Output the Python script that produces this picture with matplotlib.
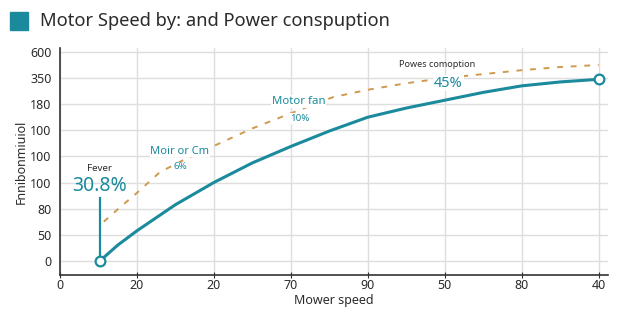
import matplotlib
matplotlib.use('Agg')
import matplotlib.pyplot as plt
import matplotlib.patches as mpatches

plt.rcParams['font.family'] = ['Noto Sans', 'DejaVu Sans']

TEAL = '#1b8a9c'
ORANGE = '#d09a4e'
GRID = '#dedede'
DARK = '#2b2b2b'

# tick labels as printed on the chart (positions are 0..n-1)
x_labels = ['0', '20', '20', '70', '90', '50', '80', '40']
y_labels = ['0', '50', '80', '100', '100', '100', '180', '350', '600']

speed_x = [0.52, 0.75, 1.0, 1.5, 2.0, 2.5, 3.0, 3.5, 4.0, 4.5, 5.0, 5.5, 6.0, 6.5, 7.0]
speed_y = [0.0, 0.6, 1.15, 2.15, 3.0, 3.75, 4.38, 4.97, 5.5, 5.85, 6.15, 6.45, 6.7, 6.85, 6.95]

# power consumption curve (dashed)
power_x = [0.57, 0.8, 1.0, 1.3, 1.6, 2.0, 2.5, 3.0, 3.55, 4.0, 4.5, 5.0, 5.5, 6.0, 6.5, 7.0]
power_y = [1.5, 2.1, 2.6, 3.4, 3.85, 4.4, 5.07, 5.65, 6.27, 6.55, 6.8, 7.0, 7.15, 7.3, 7.42, 7.5]

fig = plt.figure(figsize=(6.44, 3.22), dpi=100)
ax = fig.add_axes([0.093, 0.146, 0.851, 0.705])

ax.plot(power_x, power_y, color=ORANGE, lw=1.4, ls=(0, (3, 4)), zorder=2)
ax.plot(speed_x, speed_y, color=TEAL, lw=2.2, zorder=3, solid_capstyle='round')
ax.plot([speed_x[0], speed_x[-1]], [speed_y[0], speed_y[-1]], ls='none', marker='o',
        ms=7, mfc='white', mec=TEAL, mew=1.6, zorder=4)

# callout stem at the start point
ax.plot([speed_x[0], speed_x[0]], [speed_y[0], 2.4], color=TEAL, lw=1.6, zorder=3)

wbox = dict(facecolor='white', edgecolor='none', pad=0.5)
ax.text(0.52, 3.55, 'Fever', ha='center', va='center', fontsize=7, color=DARK)
ax.text(0.52, 2.85, '30.8%', ha='center', va='center', fontsize=14, color=TEAL)
ax.text(1.56, 4.2, 'Moir or Cm', ha='center', va='center', fontsize=8, color=TEAL,
        bbox=wbox, zorder=5)
ax.text(1.56, 3.6, '6%', ha='center', va='center', fontsize=7, color=TEAL,
        bbox=wbox, zorder=5)
ax.text(3.1, 6.1, 'Motor fan', ha='center', va='center', fontsize=8.2, color=TEAL,
        bbox=wbox, zorder=5)
ax.text(3.12, 5.45, '10%', ha='center', va='center', fontsize=7, color=TEAL,
        bbox=wbox, zorder=5)
ax.text(4.9, 7.5, 'Powes comoption', ha='center', va='center', fontsize=6.5, color=DARK)
ax.text(5.05, 6.8, '45%', ha='center', va='center', fontsize=10.5, color=TEAL,
        fontweight='bold', bbox=wbox, zorder=5)

ax.set_xticks(range(len(x_labels)))
ax.set_xticklabels(x_labels)
ax.set_yticks(range(len(y_labels)))
ax.set_yticklabels(y_labels)
ax.set_xlim(0, 7.12)
ax.set_ylim(-0.54, 8.15)

ax.grid(True, color=GRID, lw=1)
ax.set_axisbelow(True)
for s in ['top', 'right']:
    ax.spines[s].set_visible(False)
for s in ['left', 'bottom']:
    ax.spines[s].set_color('#333333')
    ax.spines[s].set_linewidth(1.2)
ax.tick_params(axis='x', length=4, direction='inout', color='#333333', labelsize=9,
               labelcolor=DARK, pad=1)
ax.tick_params(axis='y', length=0, labelsize=9, labelcolor=DARK, pad=6)

ax.set_xlabel('Mower speed', fontsize=9, color=DARK, labelpad=1)
ax.set_ylabel('Fnnibonmiuiol', fontsize=9, color=DARK, labelpad=2)

# title with coloured square
fig.patches.append(mpatches.Rectangle((10 / 644, 1 - 30 / 322), 18 / 644, 18 / 322,
                                      transform=fig.transFigure, color=TEAL))
fig.text(40 / 644, 1 - 21 / 322, 'Motor Speed by: and Power conspuption',
         fontsize=13.2, color=DARK, va='center', ha='left')

fig.savefig('out.png', dpi=100)
